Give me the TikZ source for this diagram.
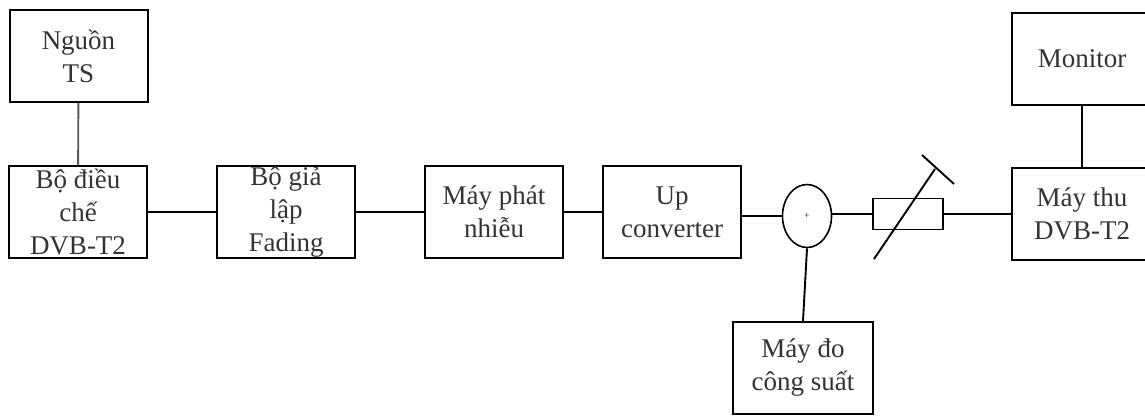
\documentclass[tikz,border=0pt]{standalone}
\usepackage{fontspec}
\setmainfont{Liberation Serif}
\usetikzlibrary{shapes.geometric}

\begin{document}
\begin{tikzpicture}[x=1pt,y=1pt]
  \tikzset{blockbox/.style={draw,line width=2pt,minimum width=138pt,minimum height=92pt,inner sep=0pt,align=center,font=\fontsize{27}{33}\selectfont,text=black!80},
    wire/.style={line width=1.9pt}}
  \useasboundingbox (0,0) rectangle (1145,-415);
  \node[blockbox] (nguon) at (78.5,-56) {Nguồn\\TS};
  \node[blockbox] (dieuche) at (78,-212) {Bộ điều\\chế\\DVB-T2};
  \node[blockbox] (fading) at (286,-212) {Bộ giả\\lập\\Fading};
  \node[blockbox] (nhieu) at (494,-212) {Máy phát\\nhiễu};
  \node[blockbox] (upconv) at (672,-212) {Up\\converter};
  \node[ellipse,draw,line width=1.6pt,minimum width=49pt,minimum height=63pt,inner sep=0pt,font=\small] (cong) at (807,-216) {+};
  \node[draw,line width=1.5pt,minimum width=70pt,minimum height=31pt,inner sep=0pt] (suyhao) at (908,-214) {};
  \node[blockbox,minimum width=140pt] (maythu) at (1082,-214) {Máy thu\\DVB-T2};
  \node[blockbox,minimum width=140pt] (monitor) at (1082,-59) {Monitor};
  \node[blockbox,minimum width=140pt] (maydo) at (803,-368) {Máy đo\\công suất};
  \coordinate (chanxien) at (874,-259);
  \coordinate (dauxien) at (935,-169);
  \coordinate (ngangtrai) at (922,-155);
  \coordinate (ngangphai) at (954,-184);
  \draw[wire,black!65] (nguon) -- (dieuche);
  \draw[wire] (dieuche) -- (fading);
  \draw[wire] (fading) -- (nhieu);
  \draw[wire] (nhieu) -- (upconv);
  \draw[wire] (upconv.east |- cong.west) -- (cong.west);
  \draw[wire] (cong.east |- suyhao.west) -- (suyhao.west);
  \draw[wire] (suyhao.east) -- (maythu.west);
  \draw[wire] (maythu.north -| monitor.south) -- (monitor.south);
  \draw[wire] (cong.south) -- (maydo.north);
  \draw[wire] (chanxien) -- (dauxien);
  \draw[wire] (ngangtrai) -- (ngangphai);
\end{tikzpicture}
\end{document}
